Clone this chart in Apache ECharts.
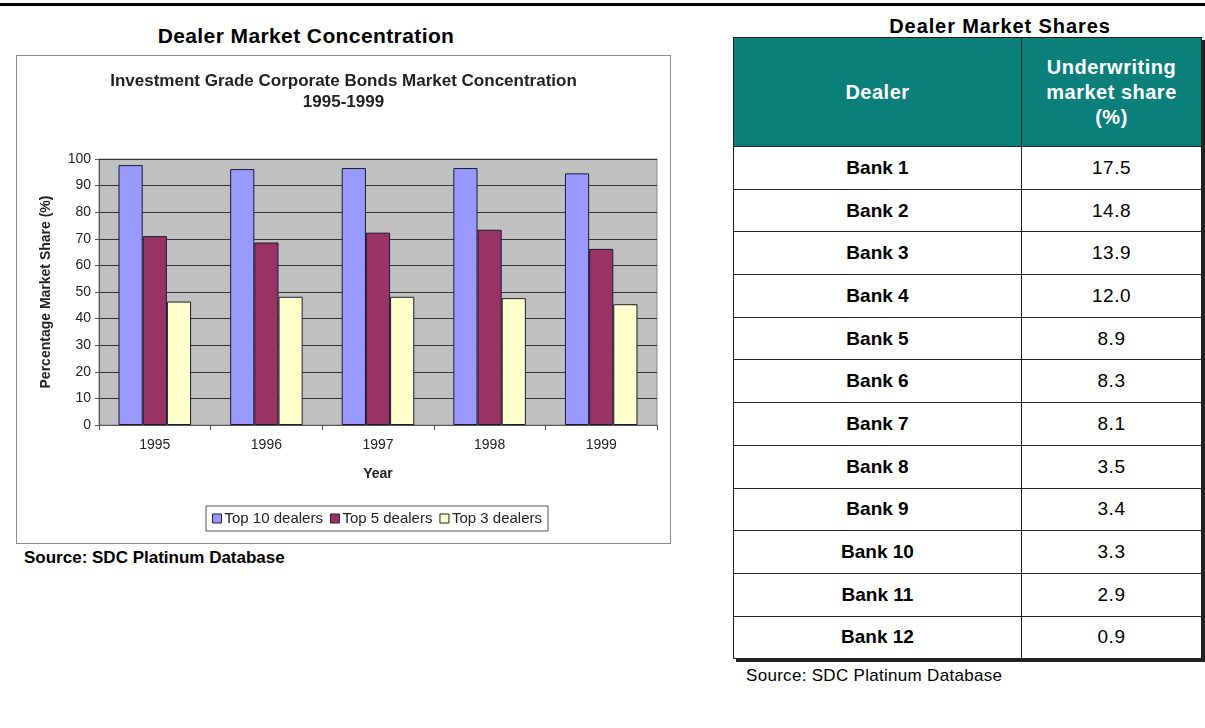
<!DOCTYPE html>
<html>
<head>
<meta charset="utf-8">
<script src="https://cdn.jsdelivr.net/npm/echarts@6/dist/echarts.min.js"></script>
<style>
  html, body { margin: 0; padding: 0; background: #fff; width: 1205px; height: 728px; overflow: hidden; font-family: "Liberation Sans", Arial, sans-serif; }
  #topline { position: absolute; left: 0; top: 3px; width: 1205px; height: 3px; background: #000; }
  #leftTitle { position: absolute; left: 16px; width: 580px; top: 24px; text-align: center; font-weight: bold; font-size: 21px; color: #000; letter-spacing: 0.4px; }
  #chartBox { position: absolute; left: 16px; top: 55px; width: 653px; height: 487px; border: 1px solid #8c8c8c; }
  #chart { width: 653px; height: 487px; }
  #leftSource { position: absolute; left: 24px; top: 548px; font-weight: bold; font-size: 17px; color: #000; }
  #rightTitle { position: absolute; left: 733px; width: 534px; top: 15px; text-align: center; font-weight: bold; font-size: 20px; color: #000; letter-spacing: 0.9px; }
  #tbl { position: absolute; left: 733px; top: 37px; border-collapse: collapse; box-shadow: 3px 3px 0 #222; }
  #tbl th, #tbl td { border: 1.5px solid #222; text-align: center; padding: 0; }
  #tbl th { background: #0b807b; color: #fff; font-weight: bold; font-size: 20px; height: 108px; line-height: 25px; letter-spacing: 0.5px; }
  #tbl td { height: 41.7px; font-size: 19px; color: #000; }
  #tbl td.dealer { font-weight: bold; width: 287px; font-size: 19px; }
  #tbl td.val { width: 179px; letter-spacing: 0.5px; }
  #rightSource { position: absolute; left: 746px; top: 666px; font-size: 17px; color: #000; letter-spacing: 0.3px; }
</style>
</head>
<body>
<div id="topline"></div>
<div id="leftTitle">Dealer Market Concentration</div>
<div id="chartBox"><div id="chart"></div></div>
<div id="leftSource">Source: SDC Platinum Database</div>
<div id="rightTitle">Dealer Market Shares</div>
<table id="tbl"><thead><tr><th id="h1"></th><th id="h2"></th></tr></thead><tbody id="tbody"></tbody></table>
<div id="rightSource">Source: SDC Platinum Database</div>
<script>
// ---- Chart data ----
const years = ['1995', '1996', '1997', '1998', '1999'];
const top10 = [97.7, 96.2, 96.6, 96.6, 94.6];
const top5 = [71.0, 68.6, 72.3, 73.4, 66.2];
const top3 = [46.4, 48.2, 48.2, 47.7, 45.4];
const seriesNames = ['Top 10 dealers', 'Top 5 dealers', 'Top 3 dealers'];
const yTicks = [0, 10, 20, 30, 40, 50, 60, 70, 80, 90, 100];

// ---- Table data ----
const tableHeaders = ['Dealer', 'Underwriting<br>market share<br>(%)'];
const dealers = ['Bank 1', 'Bank 2', 'Bank 3', 'Bank 4', 'Bank 5', 'Bank 6', 'Bank 7', 'Bank 8', 'Bank 9', 'Bank 10', 'Bank 11', 'Bank 12'];
const shares = ['17.5', '14.8', '13.9', '12.0', '8.9', '8.3', '8.1', '3.5', '3.4', '3.3', '2.9', '0.9'];

document.getElementById('h1').innerHTML = tableHeaders[0];
document.getElementById('h2').innerHTML = tableHeaders[1];
const tb = document.getElementById('tbody');
dealers.forEach((d, i) => {
  const tr = document.createElement('tr');
  const a = document.createElement('td'); a.className = 'dealer'; a.textContent = d;
  const b = document.createElement('td'); b.className = 'val'; b.textContent = shares[i];
  tr.appendChild(a); tr.appendChild(b); tb.appendChild(tr);
});

const colors = ['#9999ff', '#993366', '#ffffcc'];
const vals = [top10, top5, top3];
const font = '"Liberation Sans", Arial, sans-serif';
const chart = echarts.init(document.getElementById('chart'), null, { renderer: 'canvas' });
chart.setOption({
  animation: false,
  backgroundColor: '#fff',
  textStyle: { fontFamily: font },
  title: {
    text: 'Investment Grade Corporate Bonds Market Concentration\n1995-1999',
    left: 'center', top: 10,
    textStyle: { fontSize: 17, fontWeight: 'bold', color: '#222', lineHeight: 21, fontFamily: font }
  },
  legend: {
    data: seriesNames,
    left: 189, top: 450,
    itemWidth: 9, itemHeight: 9, itemGap: 7,
    icon: 'rect',
    borderColor: '#555', borderWidth: 1, padding: [5, 6, 5, 6],
    textStyle: { fontSize: 15, color: '#222', fontFamily: font, padding: [0, 0, 0, -2] },
    itemStyle: { borderColor: '#222', borderWidth: 1 }
  },
  grid: {
    left: 82, right: 13, top: 103, bottom: 118,
    show: true, backgroundColor: '#c0c0c0', borderColor: '#8a8a8a', borderWidth: 1
  },
  xAxis: {
    type: 'category', data: years,
    name: 'Year', nameLocation: 'middle', nameGap: 42,
    nameTextStyle: { fontWeight: 'bold', fontSize: 14, color: '#222' },
    axisLine: { lineStyle: { color: '#555' } },
    axisTick: { show: true, length: 5, lineStyle: { color: '#555' } },
    axisLabel: { fontSize: 14, color: '#222', margin: 13 }
  },
  yAxis: {
    type: 'value', min: 0, max: 100, interval: 10,
    name: 'Percentage Market Share (%)', nameLocation: 'middle', nameGap: 46,
    nameTextStyle: { fontWeight: 'bold', fontSize: 14, color: '#222' },
    axisLine: { show: true, lineStyle: { color: '#555' } },
    axisTick: { show: true, length: 4, lineStyle: { color: '#555' } },
    axisLabel: { fontSize: 14, color: '#222', margin: 8, formatter: v => yTicks.includes(v) ? String(v) : '' },
    splitLine: { show: true, lineStyle: { color: '#333', width: 1 } }
  },
  series: seriesNames.map((n, i) => ({
    name: n, type: 'bar', data: vals[i],
    barGap: '0%', barCategoryGap: '35%',
    itemStyle: { color: colors[i], borderColor: '#1a1a33', borderWidth: 1 }
  }))
});
</script>
</body>
</html>
